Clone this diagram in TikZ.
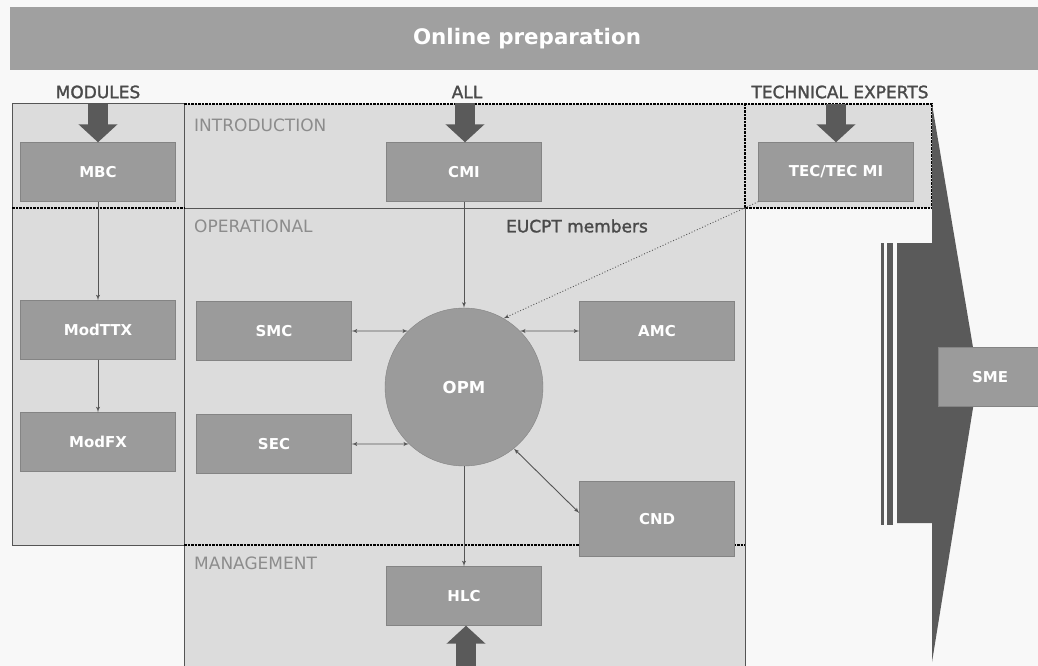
\documentclass[tikz,border=0pt]{standalone}
\usepackage{fontspec}
\setmainfont{DejaVu Sans}
\newfontfamily\headfont[FakeBold=1.5]{DejaVu Sans}
\usetikzlibrary{shapes,arrows,arrows.meta,positioning}
\definecolor{paper}{HTML}{F8F8F8}
\definecolor{banner}{HTML}{A0A0A0}
\definecolor{zone}{HTML}{DCDCDC}
\definecolor{boxgray}{HTML}{9B9B9B}
\definecolor{fatgray}{HTML}{5A5A5A}
\definecolor{zonetext}{HTML}{8C8C8C}
\definecolor{linegray}{HTML}{555555}
\definecolor{headgray}{HTML}{4A4A4A}
\tikzstyle{conn} = [draw, linegray, line width=0.9pt, -latex']
\tikzstyle{dconn} = [draw, linegray, line width=0.9pt, latex'-latex']
\tikzstyle{fat} = [draw, fatgray, line width=20pt, shorten <=5pt, -{Triangle[width=38pt,length=18pt]}]
\tikzstyle{box} = [rectangle, draw=boxgray!85!black, fill=boxgray, text=white, minimum width=155pt, minimum height=59pt, inner sep=0pt, font=\bfseries\fontsize{15}{15}\selectfont]
\tikzstyle{hub} = [circle, draw=boxgray!85!black, fill=boxgray, text=white, minimum size=158pt, inner sep=0pt, font=\bfseries\fontsize{16.5}{17}\selectfont]
\tikzstyle{head} = [inner sep=0pt, text=headgray, font=\headfont\fontsize{17}{17}\selectfont, node distance=80pt]
\tikzstyle{zonelabel} = [anchor=west, inner sep=0pt, text=zonetext, font=\fontsize{17}{17}\selectfont]
\tikzstyle{zoneline} = [draw, linegray, line width=1pt]
\tikzstyle{zonedash} = [draw, black, line width=1.1pt, dash pattern=on 2.5pt off 1pt]

\begin{document}
\begin{tikzpicture}[x=1pt, y=-1pt]
		\useasboundingbox [fill=paper] (0,0) rectangle (1038,666);
		\fill [banner] (10,7) rectangle (1038,70);
		\node [text=white, font=\bfseries\fontsize{21.4}{22}\selectfont] (title) at (527,39) {Online preparation};
		
		% zones
		\fill [zone] (12,104) rectangle (184,545);
		\fill [zone] (184,104) rectangle (745,666);
		\fill [zone] (745,104) rectangle (932,208);
		\path [zoneline] (12,104) rectangle (184,545);
		\path [zoneline] (184,104) -- (184,666);
		\path [zoneline] (184,208) -- (745,208) -- (745,666);
		\path [zonedash] (12,208) -- (184,208);
		\path [zonedash] (184,104) -- (932,104) -- (932,208) -- (745,208) -- (745,104);
		\path [zonedash] (184,545) -- (745,545);
		
		% big arrow towards SME
		\fill [fatgray] (897,243) -- (932,243) -- (932,104) -- (978,377) -- (932,662) -- (932,523) -- (897,523) -- cycle;
		\fill [fatgray] (881,243) rectangle (884,525);
		\fill [fatgray] (887,243) rectangle (893,525);
		
		\node [zonelabel] (intro) at (194,125) {INTRODUCTION};
		\node [zonelabel] (oper) at (194,226) {OPERATIONAL};
		\node [zonelabel] (mgmt) at (194,563) {MANAGEMENT};
		\node [inner sep=0pt, text=headgray, font=\headfont\fontsize{17}{17}\selectfont] (eucpt) at (577,226) {EUCPT members};
		
		\node [box] (MBC) at (98,172) {MBC};
		\node [box, below of=MBC, node distance=158pt] (ModTTX) {ModTTX};
		\node [box, below of=ModTTX, node distance=112pt] (ModFX) {ModFX};
		\node [box, right of=MBC, node distance=366pt] (CMI) {CMI};
		\node [box, right of=CMI, node distance=372pt] (TEC) {TEC/TEC MI};
		\node [hub, below of=CMI, node distance=215pt] (OPM) {OPM};
		\node [box, left of=OPM, node distance=190pt, yshift=56pt] (SMC) {SMC};
		\node [box, below of=SMC, node distance=113pt] (SEC) {SEC};
		\node [box, right of=SMC, node distance=383pt] (AMC) {AMC};
		\node [box, below of=AMC, node distance=188pt, minimum height=75pt] (CND) {CND};
		\node [box, below of=OPM, node distance=209pt] (HLC) {HLC};
		\node [box, right of=OPM, node distance=526pt, yshift=10pt, minimum width=104pt] (SME) {SME};
		
		\node [head, above of=MBC] (modules) {MODULES};
		\node [head, above of=CMI, xshift=3pt] (all) {ALL};
		\node [head, above of=TEC, xshift=4pt] (experts) {TECHNICAL EXPERTS};
		\coordinate [below of=HLC, node distance=75pt] (foot);
		
		\path [fat] (modules.south) to (MBC.north);
		\path [fat] ([xshift=-2pt]all.south) to ([xshift=1pt]CMI.north);
		\path [fat] ([xshift=-4pt]experts.south) to (TEC.north);
		\path [fat] ([xshift=2pt]foot) to ([xshift=2pt]HLC.south);
		
		\path [conn] (MBC.south) to (ModTTX.north);
		\path [conn] (ModTTX.south) to (ModFX.north);
		\path [conn] (CMI.south) to (OPM.north);
		\path [conn] (OPM.south) to (HLC.north);
		\path [dconn] (SMC.east) to (OPM.135);
		\path [dconn] (SEC.east) to (OPM.-134);
		\path [dconn] (AMC.west) to (OPM.45);
		\path [dconn] (OPM.-51) to ([yshift=6pt]CND.west);
		\path [conn, dotted] (TEC.south west) to (OPM.60);
	\end{tikzpicture}
\end{document}
